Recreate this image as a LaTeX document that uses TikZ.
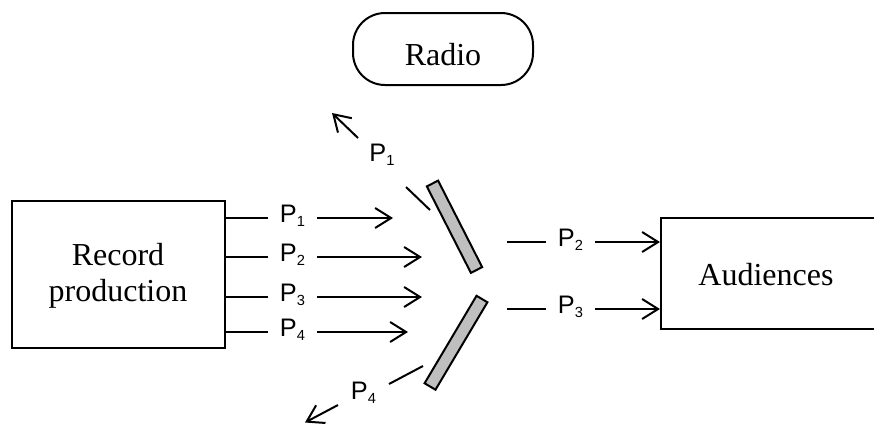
\documentclass[tikz,border=0pt]{standalone}
\usepackage{fontspec}
\setmainfont{Liberation Serif}
\newfontfamily\arialf{Liberation Sans}
\usetikzlibrary{arrows.meta,fit}
\newcommand{\psub}[1]{{\arialf\fontsize{19}{21}\selectfont P\smash{\raisebox{-3pt}{\fontsize{11}{12}\selectfont #1}}}}
\tikzset{
  lw/.style={line width=1.5pt},
  arr/.style={lw,-{Straight Barb[length=12pt,width=15pt,line width=1.5pt]}},
  box/.style={draw,lw,inner sep=0pt},
  plab/.style={inner xsep=9pt,inner ysep=0pt,text height=13.6pt,text depth=7pt},
  mirror/.style={draw,lw,fill=black!25,inner sep=0pt,minimum height=9.5pt},
  big/.style={font=\fontsize{24}{27}\selectfont}
}
\begin{document}
\begin{tikzpicture}[x=0.75pt,y=-0.75pt]
\useasboundingbox (0,0) rectangle (874,426);
% boxes
\node[box,fit={(12,201)(225,348)}] (rec) {};
\node[big,align=center] (rectext) at (118,276) {Record\\production};
\node[box,fit={(661,218)(890,329)}] (aud) {};
\node[big,anchor=base] (audtext) at (766,285) {Audiences};
\node[draw,lw,rounded corners=24pt,minimum width=135pt,minimum height=54pt,big] (radio) at (443,49) {};
\node[big,anchor=base] (radiotext) at (443,65) {Radio};
% incoming labels
\node[plab] (l1) at (292.5,218) {\psub{1}};
\node[plab] (l2) at (292.5,257) {\psub{2}};
\node[plab] (l3) at (292.5,297) {\psub{3}};
\node[plab] (l4) at (292.5,332) {\psub{4}};
\coordinate (e1) at (393,218);
\coordinate (e2) at (422,257);
\coordinate (e3) at (422,297);
\coordinate (e4) at (408,332);
\foreach \i in {1,2,3,4}{
  \draw[lw] (rec.east|-l\i) -- (l\i.west);
  \draw[arr] (l\i.east) -- (e\i);
}
% mirrors
\node[mirror,minimum width=72.8pt,rotate=-63] (m1) at (454.5,226.75) {};
\node[mirror,minimum width=76.3pt,rotate=59.3] (m2) at (456,342.75) {};
% outgoing to audiences
\node[plab] (r2) at (570.5,242) {\psub{2}};
\node[plab] (r3) at (570.5,309) {\psub{3}};
\coordinate (s2) at (507,242);
\coordinate (s3) at (507,309);
\draw[lw] (s2) -- (r2.west);
\draw[lw] (s3) -- (r3.west);
\draw[arr] (r2.east) -- (aud.west|-r2);
\draw[arr] (r3.east) -- (aud.west|-r3);
% reflected P1
\node[plab] (u1) at (382,157) {\psub{1}};
\coordinate (u1a) at (430,210);
\coordinate (u1b) at (406,187);
\coordinate (u1c) at (358,138);
\coordinate (u1d) at (332,113);
\draw[lw] (u1a) -- (u1b);
\draw[arr] (u1c) -- (u1d);
% reflected P4
\node[plab] (d4) at (363.5,395) {\psub{4}};
\coordinate (d4a) at (423,366);
\coordinate (d4b) at (389,384);
\coordinate (d4c) at (338,405);
\coordinate (d4d) at (305,422.5);
\draw[lw] (d4a) -- (d4b);
\draw[arr] (d4c) -- (d4d);
\end{tikzpicture}
\end{document}
